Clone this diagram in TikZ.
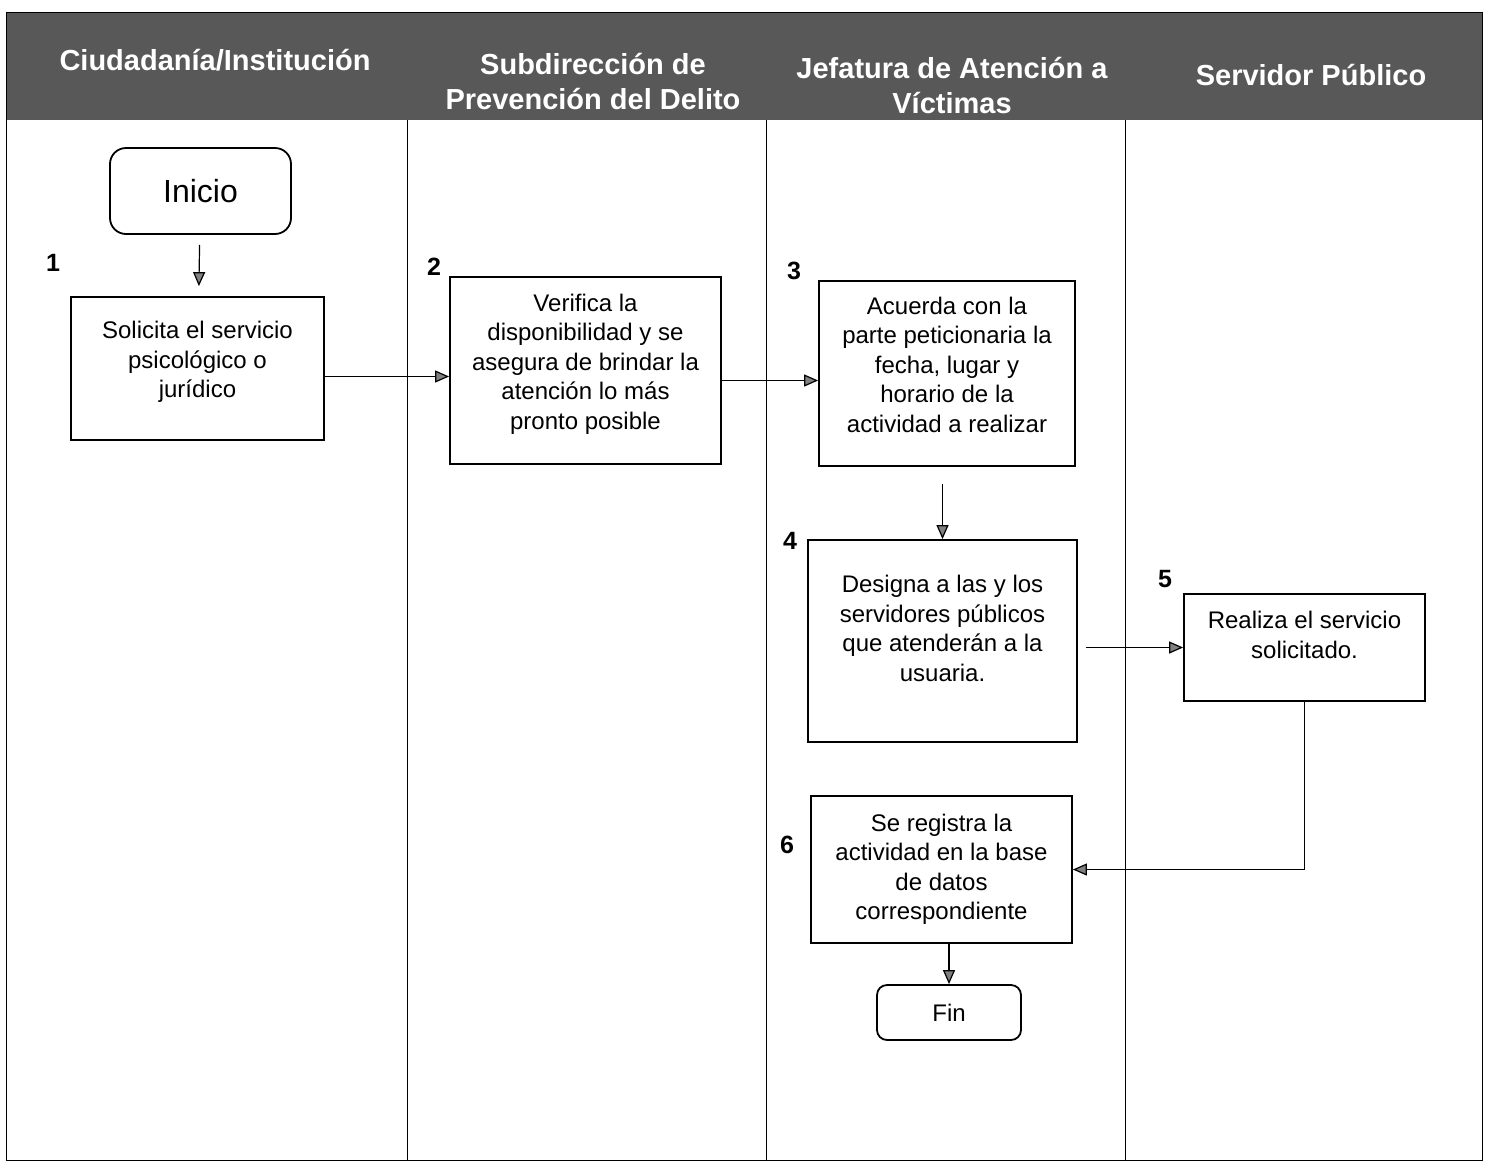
\documentclass[tikz,border=0pt]{standalone}
\usepackage{fontspec}
\setmainfont{Liberation Sans}
\usetikzlibrary{arrows.meta}
\definecolor{headgray}{RGB}{88,88,88}
\tikzset{
  proc/.style={draw, line width=0.9pt, align=center, inner sep=2pt,
    font=\fontsize{12}{14.75}\selectfont},
  term/.style={draw, line width=0.9pt, rounded corners=8pt, align=center},
  num/.style={font=\bfseries\fontsize{12.5}{15}\selectfont},
  head/.style={text=white, align=center, font=\bfseries\fontsize{14.5}{17.5}\selectfont},
  lane/.style={line width=0.5pt},
  arr/.style={line width=0.6pt, -{Triangle[length=7pt,width=6pt,fill=gray]}},
}
\begin{document}
\begin{tikzpicture}[x=0.5pt, y=-0.5pt]
  \useasboundingbox (0,0) rectangle (1498,1168);
  % header band and lanes
  \fill[headgray] (6,12) rectangle (1482,120);
  \draw[lane] (6,12) rectangle (1482,1160);
  \draw[lane] (407,120) -- (407,1160);
  \draw[lane] (766,120) -- (766,1160);
  \draw[lane] (1125,120) -- (1125,1160);
  \node[head] (h1) at (215,60) {Ciudadanía/Institución};
  \node[head] (h2) at (593,82) {Subdirección de\\Prevención del Delito};
  \node[head] (h3) at (952,86) {Jefatura de Atención a\\Víctimas};
  \node[head] (h4) at (1311,75) {Servidor Público};
  % steps
  \node[term, minimum width=90.5pt, minimum height=43pt,
    font=\fontsize{16}{19}\selectfont] (inicio) at (200.5,191) {Inicio};
  \node[proc, minimum width=126.5pt, minimum height=71.5pt] (b1) at (197.5,368.5)
    {Solicita el servicio\\psicológico o\\jurídico\\[-6pt]\mbox{}};
  \node[proc, minimum width=135.5pt, minimum height=93.5pt] (b2) at (585.5,370.5)
    {Verifica la\\disponibilidad y se\\asegura de brindar la\\atención lo más\\pronto posible\\[-6pt]\mbox{}};
  \node[proc, minimum width=128pt, minimum height=92.5pt] (b3) at (947,373.5)
    {Acuerda con la\\parte peticionaria la\\fecha, lugar y\\horario de la\\actividad a realizar\\[-6pt]\mbox{}};
  \node[proc, minimum width=134.5pt, minimum height=101pt] (b4) at (942.5,641)
    {Designa a las y los\\servidores públicos\\que atenderán a la\\usuaria.\\[-2pt]\mbox{}};
  \node[proc, minimum width=120.5pt, minimum height=53.5pt] (b5) at (1304.5,647.5)
    {Realiza el servicio\\solicitado.\\[-2pt]\mbox{}};
  \node[proc, minimum width=130.5pt, minimum height=73.5pt] (b6) at (941.5,869.5)
    {Se registra la\\actividad en la base\\de datos\\correspondiente};
  \node[term, minimum width=72pt, minimum height=27.5pt, rounded corners=5pt,
    font=\fontsize{12}{14.75}\selectfont] (fin) at (949,1012.5) {Fin};
  % step numbers
  \node[num] (n1) at (53,263) {1};
  \node[num] (n2) at (434,267) {2};
  \node[num] (n3) at (794,271) {3};
  \node[num] (n4) at (790,541) {4};
  \node[num] (n5) at (1165,579) {5};
  \node[num] (n6) at (787,845) {6};
  % connectors
  \draw[arr, shorten <=5pt, shorten >=5pt] (inicio) -- (b1);
  \draw[arr] ([yshift=-4pt]b1.east) -- ([yshift=-4pt]b1.east -| b2.west);
  \draw[arr] ([yshift=-5pt]b2.east) -- ([yshift=-5pt]b2.east -| b3.west);
  \draw[arr, shorten <=8.5pt] (b4.north |- b3.south) -- (b4.north);
  \draw[arr, shorten <=4pt] (b5.west -| b4.east) -- (b5.west);
  \draw[arr] (b5.south) |- (b6.east);
  \draw[arr] (b6.south -| fin.north) -- (fin.north);
\end{tikzpicture}
\end{document}
